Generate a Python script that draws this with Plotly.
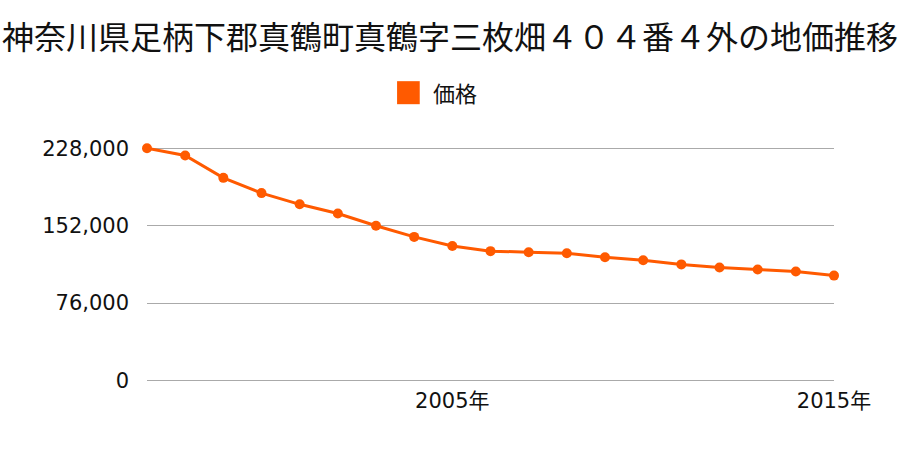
import plotly.graph_objects as go

years = list(range(1997, 2016))
prices = [228000, 221000, 199000, 184000, 173000, 164000, 152000, 141000, 132000,
          127000, 126000, 125000, 121000, 118000, 114000, 111000, 109000, 107000, 103000]
y_ticks = [0, 76000, 152000, 228000]
y_tick_labels = ["0", "76,000", "152,000", "228,000"]
x_ticks = [2005, 2015]
x_tick_labels = ["2005年", "2015年"]
title_text = "神奈川県足柄下郡真鶴町真鶴字三枚畑４０４番４外の地価推移"
series_name = "価格"

color = "#ff5a00"
cjk_font = "Noto Sans CJK JP, sans-serif"
tick_font = "DejaVu Sans, Noto Sans CJK JP, sans-serif"

fig = go.Figure()
fig.add_trace(go.Scatter(
    x=years, y=prices, mode="lines+markers",
    line=dict(color=color, width=3),
    marker=dict(color=color, size=10),
    cliponaxis=False, showlegend=False, name=series_name,
))

# legend (drawn manually to match the large square swatch)
fig.add_shape(type="rect", xref="paper", yref="paper",
              x0=0.364, x1=0.397, y0=1.102, y1=1.193,
              fillcolor=color, line=dict(width=0))
fig.add_annotation(text=series_name, xref="paper", yref="paper",
                   x=0.414, y=1.15, xanchor="left", yanchor="middle",
                   showarrow=False, font=dict(family=cjk_font, size=22, color="#111"))

fig.update_layout(
    width=900, height=450,
    paper_bgcolor="white", plot_bgcolor="white",
    font=dict(family=cjk_font, color="#111", size=20),
    title=dict(text=title_text, x=0.5, xanchor="center", y=0.915, yanchor="middle",
               font=dict(family=cjk_font, size=32, color="#111")),
    margin=dict(l=147, r=66, t=130, b=67),
    showlegend=False,
    xaxis=dict(range=[1997, 2015], tickvals=x_ticks, ticktext=x_tick_labels,
               showgrid=False, zeroline=False, showline=False, ticks="",
               ticklabelstandoff=3,
               tickfont=dict(family=tick_font, size=21, color="#111")),
    yaxis=dict(range=[-2500, 246000], tickvals=y_ticks, ticktext=y_tick_labels,
               showgrid=True, gridcolor="#aaaaaa", gridwidth=1, zeroline=False,
               showline=False, ticks="", ticklabelstandoff=17,
               tickfont=dict(family=tick_font, size=21, color="#111")),
)

fig.write_html("out.html")
